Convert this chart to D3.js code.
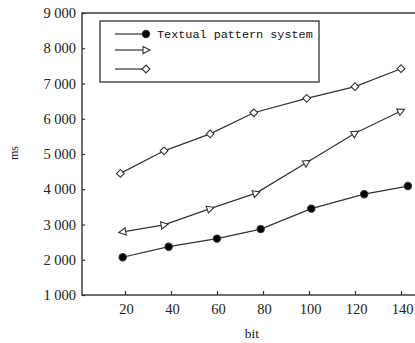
<!DOCTYPE html>
<html>
<head>
<meta charset="utf-8">
<script src="https://cdn.jsdelivr.net/npm/d3@7"></script>
<style>
  html, body { margin: 0; padding: 0; background: #fff; }
  svg { display: block; }
</style>
</head>
<body>
<div id="chart"></div>
<script>
// x tick labels (bit)
const bitTicks = [20, 40, 60, 80, 100, 120, 140];
const msTicks = [1000, 2000, 3000, 4000, 5000, 6000, 7000, 8000, 9000];

// series (x positions drift a little from the ticks)
const circleBits = [19, 39, 60, 79, 101, 124, 143];
const circleMs = [2070, 2370, 2600, 2870, 3450, 3860, 4090];
const triBits = [19, 37, 57, 77, 99, 120, 140];
const triMs = [2790, 2990, 3450, 3890, 4760, 5590, 6220];
const diaBits = [18, 37, 57, 76, 99, 120, 140];
const diaMs = [4450, 5090, 5570, 6170, 6580, 6910, 7420];

const legendLabels = ["Textual pattern system", "", ""];

const width = 415, height = 343;
const plotLeft = 82, plotTop = 13, plotBottom = 295, plotRight = 440;
const ink = "#333";
const textInk = "#222";

const svg = d3.select("#chart").append("svg")
  .attr("width", width)
  .attr("height", height);

const x = d3.scaleLinear().domain([20, 140]).range([125, 401]);
const y = d3.scaleLinear().domain([1000, 9000]).range([plotBottom, plotTop]);

// frame
svg.append("rect")
  .attr("x", plotLeft).attr("y", plotTop)
  .attr("width", plotRight - plotLeft).attr("height", plotBottom - plotTop)
  .attr("fill", "none").attr("stroke", ink).attr("stroke-width", 1.4);

// y axis, ticks pointing inward
const yAxis = svg.append("g")
  .attr("transform", `translate(${plotLeft},0)`)
  .call(d3.axisRight(y).tickValues(msTicks).tickSize(3).tickFormat(""));
yAxis.select(".domain").remove();
yAxis.selectAll("line").attr("stroke", ink).attr("stroke-width", 1.2);

svg.append("g").selectAll("text").data(msTicks).join("text")
  .attr("x", plotLeft - 6)
  .attr("y", d => y(d))
  .attr("dy", "0.35em")
  .attr("text-anchor", "end")
  .attr("font-family", "Liberation Serif, serif")
  .attr("font-size", 14.5)
  .attr("fill", textInk)
  .text(d => d3.format(",")(d).replace(",", " "));

// x axis, ticks pointing up
const xAxis = svg.append("g")
  .attr("transform", `translate(0,${plotBottom})`)
  .call(d3.axisTop(x).tickValues(bitTicks).tickSize(4).tickFormat(""));
xAxis.select(".domain").remove();
xAxis.selectAll("line").attr("stroke", ink).attr("stroke-width", 1.2);

svg.append("g").selectAll("text").data(bitTicks).join("text")
  .attr("x", d => x(d) + 1.5)
  .attr("y", plotBottom + 19)
  .attr("text-anchor", "middle")
  .attr("font-family", "Liberation Serif, serif")
  .attr("font-size", 14.5)
  .attr("fill", textInk)
  .text(d => d);

// axis titles
svg.append("text")
  .attr("x", 252).attr("y", 338)
  .attr("text-anchor", "middle")
  .attr("font-family", "Liberation Serif, serif")
  .attr("font-size", 13.5)
  .attr("fill", textInk)
  .text("bit");

svg.append("text")
  .attr("transform", "translate(18,153) rotate(-90)")
  .attr("text-anchor", "middle")
  .attr("font-family", "Liberation Serif, serif")
  .attr("font-size", 12)
  .attr("fill", textInk)
  .text("ms");

// markers
const triPath = "M-3,-3.6L4,0L-3,3.6Z";
const diaPath = d3.symbol(d3.symbolSquare, 30)();
const dotPath = d3.symbol(d3.symbolCircle, 42)();

function drawSeries(bits, vals, kind) {
  const pts = bits.map((b, i) => [x(b), y(vals[i])]);
  const g = svg.append("g");
  g.append("path")
    .attr("d", d3.line()(pts))
    .attr("fill", "none").attr("stroke", ink).attr("stroke-width", 1.2);

  g.selectAll(".m").data(pts).join("path")
    .attr("class", "m")
    .attr("d", kind === "circle" ? dotPath : kind === "tri" ? triPath : diaPath)
    .attr("fill", kind === "circle" ? "#000" : "#fff")
    .attr("stroke", ink)
    .attr("stroke-width", 1.1)
    .attr("transform", (p, i) => {
      let rot = 0;
      if (kind === "tri") {
        // triangles follow the line; the first one points back
        const a = i === 0 ? pts[1] : pts[i - 1];
        const b = i === 0 ? pts[0] : p;
        rot = Math.atan2(b[1] - a[1], b[0] - a[0]) * 180 / Math.PI;
      }
      if (kind === "dia") rot = 45;
      return `translate(${p[0]},${p[1]}) rotate(${rot})`;
    });
}

drawSeries(circleBits, circleMs, "circle");
drawSeries(triBits, triMs, "tri");
drawSeries(diaBits, diaMs, "dia");

// legend
const legend = svg.append("g");
legend.append("rect")
  .attr("x", 100).attr("y", 21).attr("width", 219).attr("height", 61)
  .attr("fill", "#fff").attr("stroke", ink).attr("stroke-width", 1.3);

const kinds = ["circle", "tri", "dia"];
const rowY = [34, 50, 69];
kinds.forEach((k, i) => {
  legend.append("line")
    .attr("x1", 115).attr("x2", 145)
    .attr("y1", rowY[i]).attr("y2", rowY[i])
    .attr("stroke", ink).attr("stroke-width", 1.2);
  legend.append("path")
    .attr("d", k === "circle" ? dotPath : k === "tri" ? triPath : diaPath)
    .attr("transform", `translate(146,${rowY[i]}) rotate(${k === "dia" ? 45 : 0})`)
    .attr("fill", k === "circle" ? "#000" : "#fff")
    .attr("stroke", ink).attr("stroke-width", 1.1);
  legend.append("text")
    .attr("x", 157).attr("y", rowY[i])
    .attr("dy", "0.35em")
    .attr("font-family", "Liberation Mono, monospace")
    .attr("font-size", 11.8)
    .attr("fill", "#111")
    .text(legendLabels[i]);
});
</script>
</body>
</html>
